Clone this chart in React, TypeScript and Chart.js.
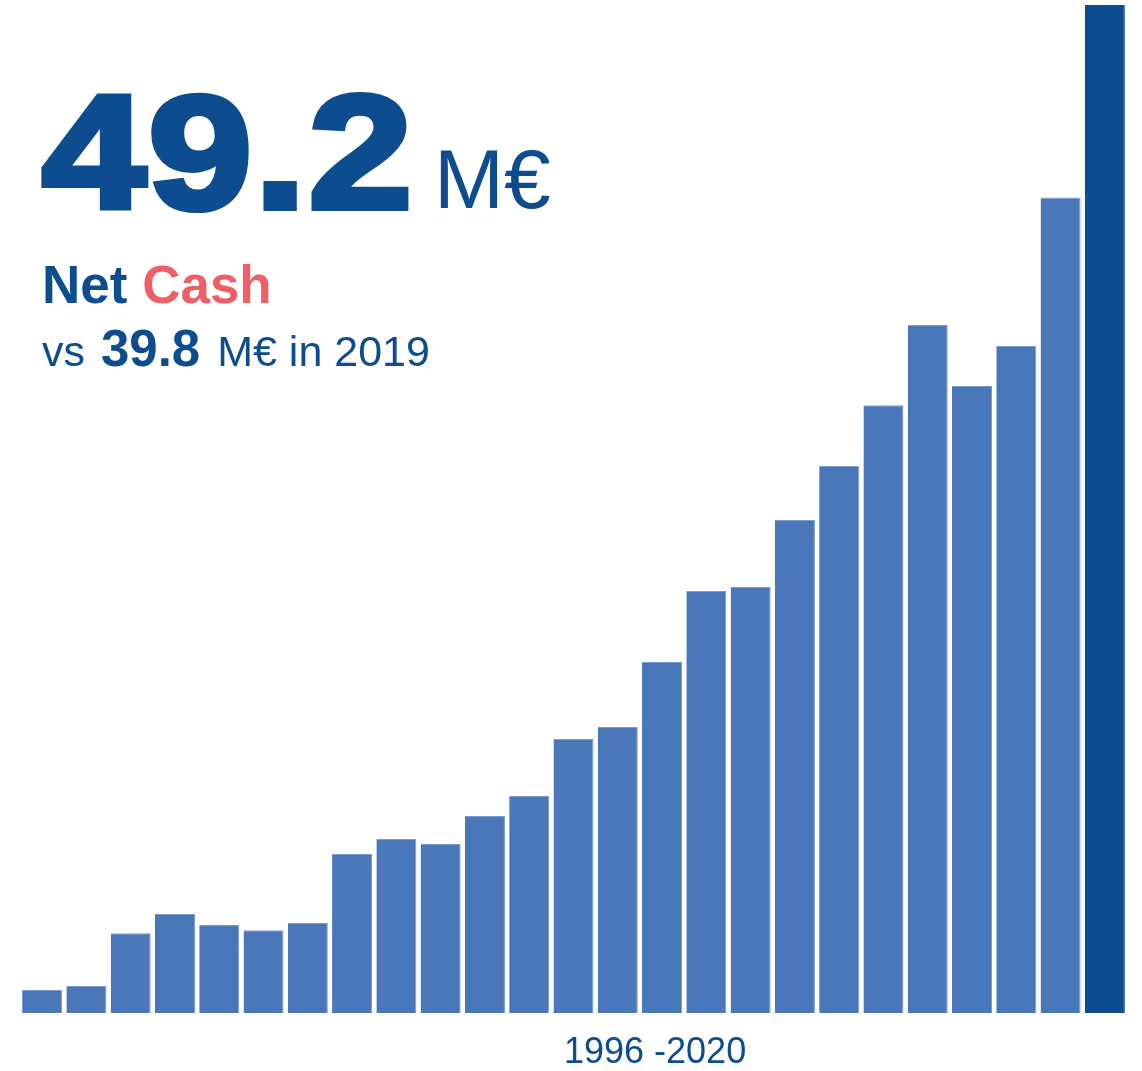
import React, { useEffect, useRef } from "react";
import { Chart, registerables } from "chart.js";

Chart.register(...registerables);

const years = [
  "1996", "1997", "1998", "1999", "2000", "2001", "2002", "2003", "2004", "2005",
  "2006", "2007", "2008", "2009", "2010", "2011", "2012", "2013", "2014", "2015",
  "2016", "2017", "2018", "2019", "2020",
];
const netCash = [
  1.12, 1.32, 3.89, 4.83, 4.29, 4.04, 4.39, 7.76, 8.49, 8.25,
  9.61, 10.59, 13.37, 13.96, 17.13, 20.6, 20.79, 24.06, 26.7, 29.67,
  33.58, 30.6, 32.55, 39.8, 49.2,
];
const headline = "49.2";
const headlineUnit = "M€";
const prevValue = "39.8";
const prevYear = "2019";
const periodLabel = "1996 -2020";

const BAR = "#4A76BA";
const BAR_EDGE = "#7B9AD0";
const DARK = "#0C4C8F";
const TEXT = "#0D4C8E";
const RED = "#EE5F67";
const FONT = "'Liberation Sans', Arial, sans-serif";

export default function App() {
  const ref = useRef<HTMLCanvasElement | null>(null);

  useEffect(() => {
    if (!ref.current) return;
    const last = netCash.length - 1;
    const chart = new Chart(ref.current, {
      type: "bar",
      data: {
        labels: years,
        datasets: [
          {
            data: netCash,
            backgroundColor: netCash.map((_, i) => (i === last ? DARK : BAR)),
            borderColor: netCash.map((_, i) => (i === last ? DARK : BAR_EDGE)),
            borderWidth: { top: 1, right: 1, left: 0, bottom: 0 },
            barPercentage: 0.9033,
            categoryPercentage: 1,
          },
        ],
      },
      options: {
        responsive: false,
        animation: false,
        layout: { padding: { left: 20, right: 15, top: 5, bottom: 58 } },
        plugins: { legend: { display: false }, tooltip: { enabled: false } },
        scales: {
          x: { display: false },
          y: { display: false, min: 0, max: 49.2 },
        },
      },
    });
    return () => chart.destroy();
  }, []);

  const abs = (extra: React.CSSProperties): React.CSSProperties => ({
    position: "absolute",
    fontFamily: FONT,
    color: TEXT,
    whiteSpace: "nowrap",
    lineHeight: 1,
    margin: 0,
    ...extra,
  });

  return (
    <div style={{ position: "fixed", left: 0, top: 0, width: 1142, height: 1071, background: "#fff" }}>
      <canvas ref={ref} width={1142} height={1071} style={{ position: "absolute", left: 0, top: 0 }} />
      <div
        style={abs({
          left: 42,
          top: 71,
          fontSize: 162,
          fontWeight: 900,
          WebkitTextStroke: "6px " + TEXT,
          transform: "scaleX(1.153)",
          transformOrigin: "left top",
          letterSpacing: 2,
        })}
      >
        {headline}
      </div>
      <div style={abs({ left: 434, top: 137, fontSize: 84 })}>{headlineUnit}</div>
      <div style={abs({ left: 42, top: 258, fontSize: 53, fontWeight: 700 })}>
        Net <span style={{ color: RED }}>Cash</span>
      </div>
      <div style={abs({ left: 42, top: 323, fontSize: 43 })}>
        vs <span style={{ fontWeight: 700, fontSize: 51, marginLeft: 4, marginRight: 5 }}>{prevValue}</span> {headlineUnit} in {prevYear}
      </div>
      <div style={abs({ left: 564, top: 1033, fontSize: 36 })}>{periodLabel}</div>
    </div>
  );
}
